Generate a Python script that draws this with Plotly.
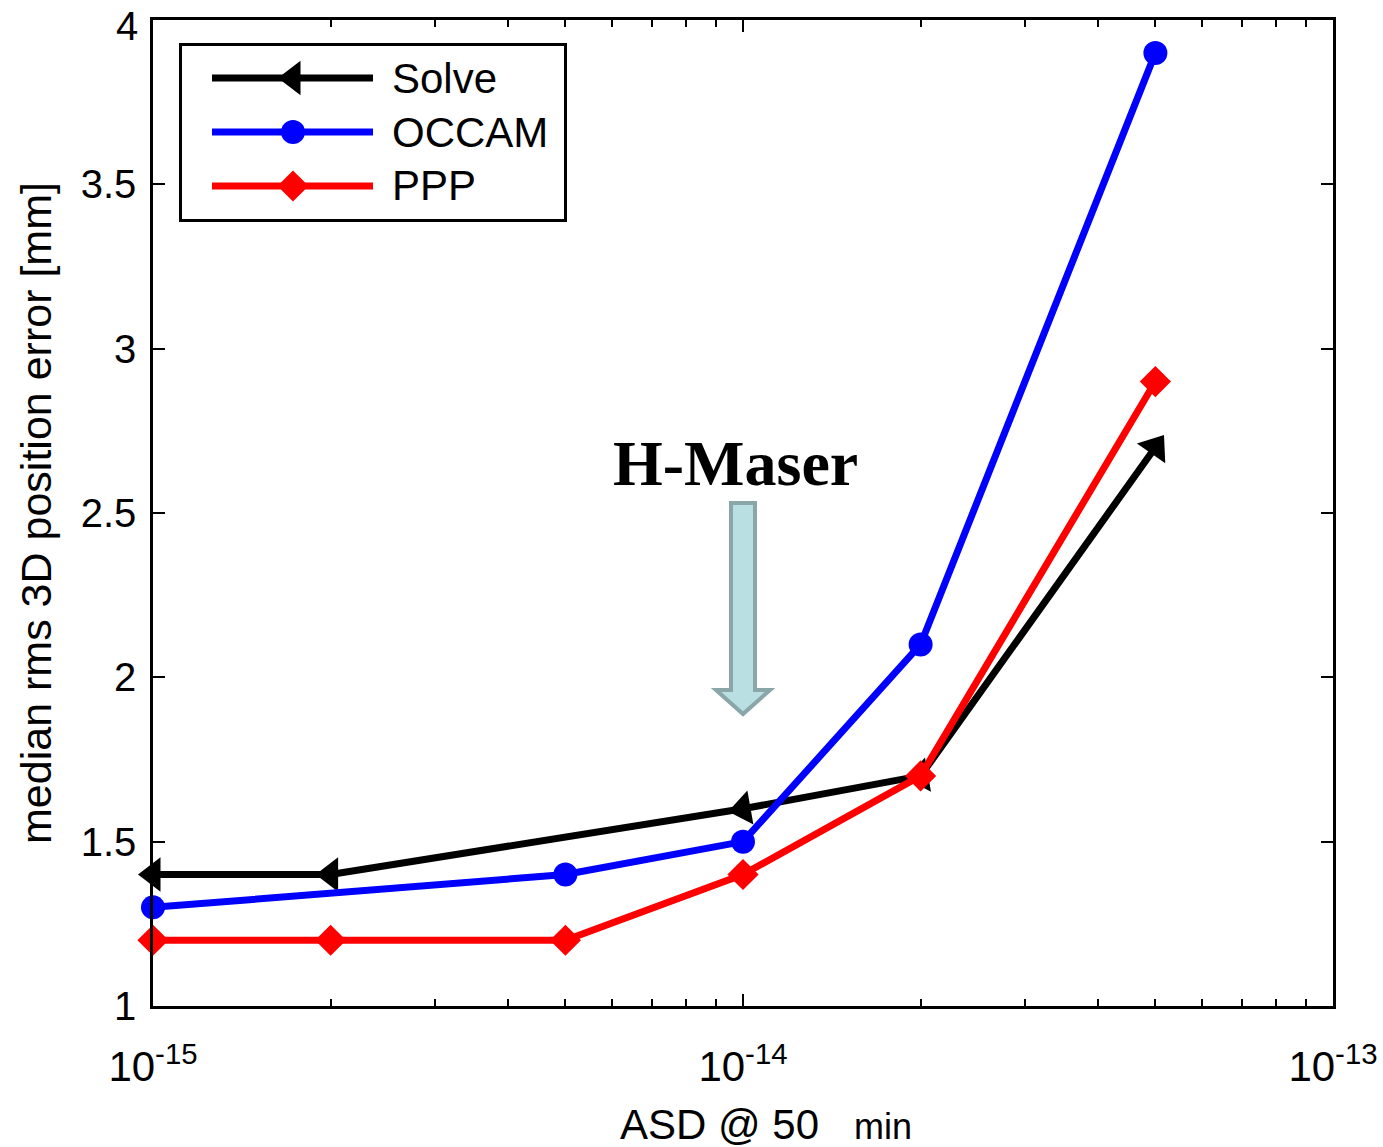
import plotly.graph_objects as go

# ---------------- data ----------------
solve_x = [1e-15, 2e-15, 1e-14, 2e-14, 5e-14]
solve_y = [1.4, 1.4, 1.6, 1.7, 2.7]
solve_angle = [0, 0, -10, -10, 125]

occam_x = [1e-15, 5e-15, 1e-14, 2e-14, 5e-14]
occam_y = [1.3, 1.4, 1.5, 2.1, 3.9]

ppp_x = [1e-15, 2e-15, 5e-15, 1e-14, 2e-14, 5e-14]
ppp_y = [1.2, 1.2, 1.2, 1.4, 1.7, 2.9]

x_tickvals = [1e-15, 1e-14, 1e-13]
x_ticktext = ["10<sup>-15</sup>", "10<sup>-14</sup>", "10<sup>-13</sup>"]
x_minor = [k * 10.0 ** e for e in (-15, -14) for k in range(2, 10)]
y_tickvals = [1, 1.5, 2, 2.5, 3, 3.5, 4]
y_ticktext = ["1", "1.5", "2", "2.5", "3", "3.5", ""]
y_top_label = "4"   # drawn separately so it is not cut at the page top

series_names = ["Solve", "OCCAM", "PPP"]
series_colors = ["#000000", "#0000ff", "#ff0000"]
series_symbols = ["triangle-left", "circle", "diamond"]
series_sizes = [30, 24, 24]

# ---------------- layout helpers (window pixel -> paper) ----------------
W, H = 1383, 1147
L, T = 153, 20
PW, PH = 1180, 986
R, B = W - L - PW, H - T - PH


def px(x):
    return (x - L) / PW


def py(y):
    return (T + PH - y) / PH


FONT = "Liberation Sans, Arial, sans-serif"
LW = 7

fig = go.Figure()

main_x = [solve_x, occam_x, ppp_x]
main_y = [solve_y, occam_y, ppp_y]
for i in range(3):
    marker = dict(symbol=series_symbols[i], size=series_sizes[i],
                  color=series_colors[i], opacity=1, line=dict(width=0))
    if i == 0:
        marker["angle"] = solve_angle
    fig.add_trace(go.Scatter(
        x=main_x[i], y=main_y[i], mode="lines+markers",
        name=series_names[i], showlegend=False, cliponaxis=False,
        line=dict(color=series_colors[i], width=LW),
        marker=marker, xaxis="x", yaxis="y"))

# ---------------- custom legend (overlay axes in paper units) ----------------
leg_rows = [78, 132, 186]
lx0, lx1, lxm = 212, 373, 293
for i in range(3):
    yy = py(leg_rows[i])
    fig.add_trace(go.Scatter(
        x=[px(lx0), px(lx1)], y=[yy, yy],
        mode="lines", showlegend=False, hoverinfo="skip", cliponaxis=False,
        line=dict(color=series_colors[i], width=LW),
        xaxis="x2", yaxis="y2"))
    fig.add_trace(go.Scatter(
        x=[px(lxm)], y=[yy],
        mode="markers", showlegend=False, hoverinfo="skip", cliponaxis=False,
        marker=dict(symbol=series_symbols[i], size=series_sizes[i],
                    color=series_colors[i], opacity=1, line=dict(width=0)),
        xaxis="x2", yaxis="y2"))
    fig.add_annotation(x=px(390), y=yy, xref="paper", yref="paper",
                       text=series_names[i], showarrow=False,
                       xanchor="left", yanchor="middle",
                       font=dict(family=FONT, size=42, color="black"))

fig.add_shape(type="rect", xref="paper", yref="paper",
              x0=px(180.5), x1=px(565.5), y0=py(44.5), y1=py(220.5),
              line=dict(color="black", width=3), fillcolor="white",
              layer="below")

# ---------------- top y tick label ----------------
fig.add_annotation(x=px(140), y=py(2), xref="paper", yref="paper",
                   text=y_top_label, showarrow=False,
                   xanchor="right", yanchor="top",
                   font=dict(family=FONT, size=40, color="black"))

# ---------------- H-Maser annotation and block arrow ----------------
fig.add_annotation(x=px(735), y=py(464), xref="paper", yref="paper",
                   text="<b>H-Maser</b>", showarrow=False,
                   xanchor="center", yanchor="middle",
                   font=dict(family="Liberation Serif, Times New Roman, serif",
                             size=64, color="black"))

arrow_pts = [(731, 503), (755, 503), (755, 690), (770, 690), (743, 714),
             (716, 690), (731, 690)]
path = "M " + " L ".join(f"{px(a):.5f},{py(b):.5f}" for a, b in arrow_pts) + " Z"
fig.add_shape(type="path", xref="paper", yref="paper", path=path,
              fillcolor="#b9dfe3", line=dict(color="#8ba6a8", width=4),
              layer="above")

# ---------------- x axis title (as positioned text) ----------------
fig.add_annotation(x=px(618), y=py(1124), xref="paper", yref="paper",
                   text="ASD @ 50&nbsp;&nbsp;&nbsp;<span style='font-size:36px'>min</span>",
                   showarrow=False, xanchor="left", yanchor="middle",
                   font=dict(family=FONT, size=42, color="black"))

# ---------------- axes ----------------
fig.update_layout(
    width=W, height=H,
    margin=dict(l=L, r=R, t=T, b=B, autoexpand=False),
    paper_bgcolor="white", plot_bgcolor="white",
    font=dict(family=FONT, color="black"),
    showlegend=False,
    xaxis=dict(
        type="log", range=[-15, -13], automargin=False,
        tickmode="array", tickvals=x_tickvals, ticktext=x_ticktext,
        ticks="inside", ticklen=12, tickwidth=2, tickcolor="black",
        minor=dict(tickmode="array", tickvals=x_minor, ticks="inside",
                   ticklen=7, tickwidth=2, tickcolor="black", showgrid=False),
        showline=True, linecolor="black", linewidth=2.5, mirror="ticks",
        showgrid=False, zeroline=False,
        tickfont=dict(family=FONT, size=42, color="black"),
        ticklabelstandoff=22, ticklabeloverflow="allow",
    ),
    yaxis=dict(
        range=[0.9999, 4.0001], automargin=False,
        tickmode="array", tickvals=y_tickvals, ticktext=y_ticktext,
        ticks="inside", ticklen=12, tickwidth=2, tickcolor="black",
        showline=True, linecolor="black", linewidth=2.5, mirror="ticks",
        showgrid=False, zeroline=False,
        tickfont=dict(family=FONT, size=40, color="black"),
        ticklabelstandoff=6, ticklabeloverflow="allow",
        title=dict(text="median rms 3D position error [mm]",
                   font=dict(family=FONT, size=43, color="black"),
                   standoff=16),
    ),
    xaxis2=dict(overlaying="x", anchor="y2", range=[0, 1], visible=False,
                fixedrange=True, automargin=False),
    yaxis2=dict(overlaying="y", anchor="x2", range=[0, 1], visible=False,
                fixedrange=True, automargin=False),
)

fig.write_html(
    "out.html",
    config={"displayModeBar": False},
    post_script="document.body.style.margin='0';"
                "document.body.style.overflow='hidden';",
)
